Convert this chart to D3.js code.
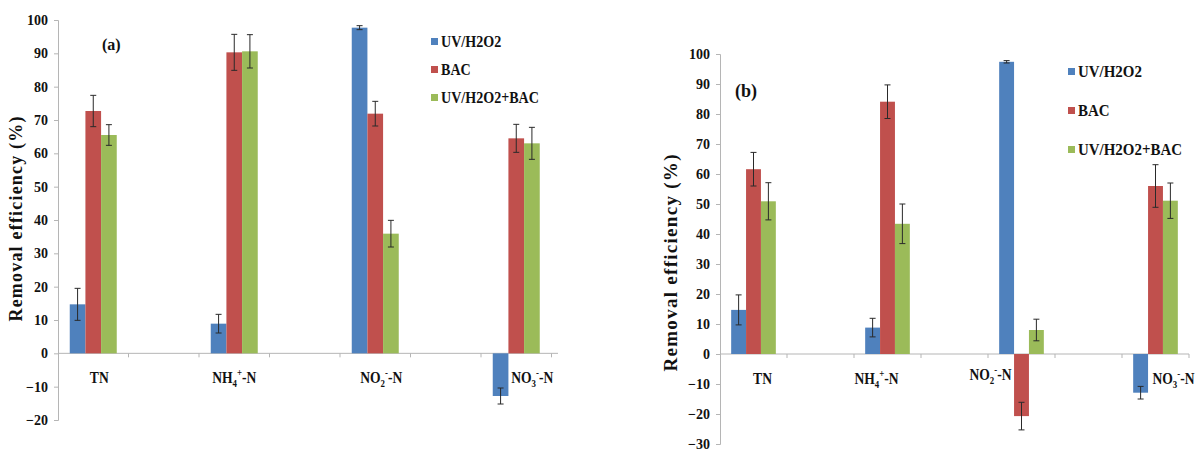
<!DOCTYPE html>
<html>
<head>
<meta charset="utf-8">
<script src="https://cdn.jsdelivr.net/npm/d3@7"></script>
<style>
  body { margin: 0; background: #fff; }
  svg text { font-weight: bold; fill: #111; }
</style>
</head>
<body>
<div id="block"></div>
<script>
// categories and series
var categories = ["TN", "NH4+-N", "NO2--N", "NO3--N"];
var series = ["UV/H2O2", "BAC", "UV/H2O2+BAC"];
var colors = ["#4F81BD", "#C0504D", "#9BBB59"];

// tick values
var ticksA = [-20, -10, 0, 10, 20, 30, 40, 50, 60, 70, 80, 90, 100];
var ticksB = [-30, -20, -10, 0, 10, 20, 30, 40, 50, 60, 70, 80, 90, 100];

// panel (a) values, %
var aUV = [14.7, 8.9, 97.7, -12.8];
var aUVErr = [4.8, 2.8, 0.6, 2.4];
var aBAC = [72.7, 90.3, 71.9, 64.5];
var aBACErr = [4.7, 5.4, 3.7, 4.2];
var aCombo = [65.5, 90.6, 35.9, 63.0];
var aComboErr = [3.1, 5.0, 4.0, 4.8];

// panel (b) values, %
var bUV = [14.7, 8.8, 97.4, -12.9];
var bUVErr = [5.0, 3.1, 0.4, 2.1];
var bBAC = [61.6, 84.1, -20.7, 56.0];
var bBACErr = [5.6, 5.6, 4.6, 7.1];
var bCombo = [50.9, 43.4, 8.0, 51.1];
var bComboErr = [6.2, 6.6, 3.6, 5.9];

var w = 1199,
  h = 450;

var serif = "Liberation Serif";

var svg = d3.select("#block")
          .append("svg")
          .attr("width", w)
          .attr("height", h)
          .attr("font-family", serif);

// excel-like layout: real categories sit in every other slot
var slots = [];
categories.forEach(function(c, i) {
  slots.push(c);
  if (i < categories.length - 1) slots.push("gap" + i);
});

var panels = [
  { tag: "(a)", tagX: 102, tagY: 50, tagSize: 16,
    left: 58, right: 551.5, axisEnd: 558, top: 20, bottom: 420,
    ticks: ticksA, vals: [aUV, aBAC, aCombo], errs: [aUVErr, aBACErr, aComboErr],
    labelDx: [6, 0, 6, 16], labelDy: [0, 0, 0, 0], labelY: 383,
    titleX: 22, titleY: 219, titleLen: 205, titleSize: 18,
    legX: 431, legY: [47, 75, 103], legSize: 16 },
  { tag: "(b)", tagX: 735, tagY: 97, tagSize: 18,
    left: 720, right: 1189, axisEnd: 1189, top: 54, bottom: 444,
    ticks: ticksB, vals: [bUV, bBAC, bCombo], errs: [bUVErr, bBACErr, bComboErr],
    labelDx: [9, -11, -31, 18], labelDy: [0, 0, -4, 0], labelY: 384,
    titleX: 677, titleY: 263, titleLen: 217, titleSize: 19,
    legX: 1068, legY: [77, 116, 155], legSize: 17 }
];

function categoryLabel(sel, name, size) {
  var sub = size * 0.65;
  if (name === "TN") {
    sel.append("tspan").text("TN");
    return;
  }
  var parts = {
    "NH4+-N": ["NH", "4", "+"],
    "NO2--N": ["NO", "2", "-"],
    "NO3--N": ["NO", "3", "-"]
  }[name];
  sel.append("tspan").text(parts[0]);
  sel.append("tspan").attr("font-size", sub).attr("dy", 4).text(parts[1]);
  sel.append("tspan").attr("font-size", sub).attr("dy", -11).text(parts[2]);
  sel.append("tspan").attr("dy", 7).text("-N");
}

panels.forEach(function(p) {
  var g = svg.append("g");

  var y = d3.scaleLinear()
            .domain([p.ticks[0], p.ticks[p.ticks.length - 1]])
            .range([p.bottom, p.top]);

  var x0 = d3.scaleBand()
             .domain(slots)
             .range([p.left, p.right]);

  var bw = x0.bandwidth();
  var x1 = d3.scaleBand()
             .domain(series)
             .range([bw / 6, bw * 5 / 6]);

  // y axis
  var yAxis = d3.axisLeft(y)
                .tickValues(p.ticks)
                .tickSize(4)
                .tickPadding(6);
  var ya = g.append("g")
            .attr("transform", "translate(" + p.left + ",0)")
            .call(yAxis)
            .attr("font-family", serif)
            .attr("font-size", 14);
  ya.select(".domain").attr("stroke", "#b5b5b5");
  ya.selectAll(".tick line").attr("stroke", "#b5b5b5");
  ya.selectAll(".tick text")
    .attr("font-weight", "bold")
    .attr("fill", "#111");

  // x axis line with slot boundary ticks
  g.append("line")
   .attr("x1", p.left).attr("x2", p.axisEnd)
   .attr("y1", y(0)).attr("y2", y(0))
   .attr("stroke", "#b5b5b5");
  g.selectAll(".xtick")
   .data(slots)
   .enter()
   .append("line")
   .attr("x1", function(d) { return x0(d) + bw; })
   .attr("x2", function(d) { return x0(d) + bw; })
   .attr("y1", y(0))
   .attr("y2", y(0) + 4)
   .attr("stroke", "#b5b5b5");

  // bars
  series.forEach(function(s, si) {
    var rows = categories.map(function(c, ci) {
      return { cat: c, v: p.vals[si][ci], e: p.errs[si][ci] };
    });
    g.selectAll(".bar" + si)
     .data(rows)
     .enter()
     .append("rect")
     .attr("x", function(d) { return x0(d.cat) + x1(s); })
     .attr("width", x1.bandwidth())
     .attr("y", function(d) { return y(Math.max(0, d.v)); })
     .attr("height", function(d) { return Math.abs(y(d.v) - y(0)); })
     .attr("fill", colors[si]);

    // error bars
    var eb = g.selectAll(".err" + si)
              .data(rows)
              .enter()
              .append("g")
              .attr("stroke", "#2a2a2a")
              .attr("stroke-width", 1);
    var cx = function(d) { return x0(d.cat) + x1(s) + x1.bandwidth() / 2; };
    eb.append("line")
      .attr("x1", cx).attr("x2", cx)
      .attr("y1", function(d) { return y(d.v + d.e); })
      .attr("y2", function(d) { return y(d.v - d.e); });
    eb.append("line")
      .attr("x1", function(d) { return cx(d) - 3; })
      .attr("x2", function(d) { return cx(d) + 3; })
      .attr("y1", function(d) { return y(d.v + d.e); })
      .attr("y2", function(d) { return y(d.v + d.e); });
    eb.append("line")
      .attr("x1", function(d) { return cx(d) - 3; })
      .attr("x2", function(d) { return cx(d) + 3; })
      .attr("y1", function(d) { return y(d.v - d.e); })
      .attr("y2", function(d) { return y(d.v - d.e); });
  });

  // category labels
  categories.forEach(function(c, ci) {
    var lx = x0(c) + bw / 2 + p.labelDx[ci];
    var t = g.append("g")
             .attr("transform", "translate(" + lx + "," + (p.labelY + p.labelDy[ci]) + ") scale(0.8,1)")
             .append("text")
             .attr("text-anchor", "middle")
             .attr("font-size", 17);
    categoryLabel(t, c, 17);
  });

  // y title
  g.append("text")
   .attr("transform", "translate(" + p.titleX + "," + p.titleY + ") rotate(-90)")
   .attr("text-anchor", "middle")
   .attr("font-size", p.titleSize)
   .attr("textLength", p.titleLen)
   .attr("lengthAdjust", "spacing")
   .text("Removal efficiency (%)");

  // panel tag
  g.append("text")
   .attr("x", p.tagX)
   .attr("y", p.tagY)
   .attr("font-size", p.tagSize)
   .text(p.tag);

  // legend
  series.forEach(function(s, si) {
    g.append("rect")
     .attr("x", p.legX)
     .attr("y", p.legY[si] - 9)
     .attr("width", 7)
     .attr("height", 7)
     .attr("fill", colors[si]);
    g.append("g")
     .attr("transform", "translate(" + (p.legX + 10) + "," + p.legY[si] + ") scale(0.88,1)")
     .append("text")
     .attr("font-size", p.legSize)
     .text(s);
  });
});
</script>
</body>
</html>
